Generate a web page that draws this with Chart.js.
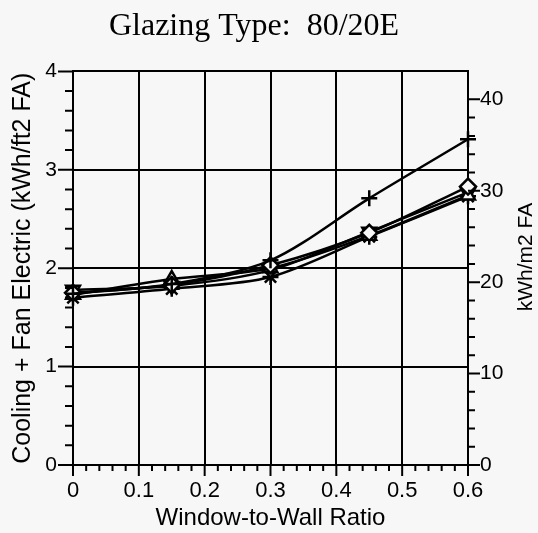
<!DOCTYPE html>
<html>
<head>
<meta charset="utf-8">
<script src="https://cdn.jsdelivr.net/npm/chart.js@4/dist/chart.umd.min.js"></script>
<style>
  html, body { margin: 0; padding: 0; background: #f7f7f7; }
  #wrap { width: 538px; height: 533px; }
</style>
</head>
<body>
<div id="wrap"><canvas id="myChart" width="538" height="533"></canvas></div>
<script>
// window-to-wall ratios where the runs were made
const wwr = [0, 0.15, 0.3, 0.45, 0.6];

// cooling + fan electric, kWh/ft2 FA, one array per marker
const plusSeries = [1.74, 1.84, 2.08, 2.71, 3.31];
const diamondSeries = [1.75, 1.83, 2.03, 2.36, 2.83];
const triangleSeries = [1.73, 1.89, 2.00, 2.33, 2.74];
const downTriSeries = [1.78, 1.82, 1.98, 2.37, 2.77];
const starSeries = [1.70, 1.79, 1.91, 2.32, 2.73];

const xTickLabels = ["0", "0.1", "0.2", "0.3", "0.4", "0.5", "0.6"];
const yTickLabels = ["0", "1", "2", "3", "4"];
const y2TickLabels = ["0", "10", "20", "30", "40"];

const FT2_TO_M2 = 10.764;
const sans = "'Liberation Sans', Arial, sans-serif";

function isMultiple(v, step) {
  const r = v / step;
  return Math.abs(r - Math.round(r)) < 1e-6;
}

function pts(arr) {
  return wwr.map((x, i) => ({ x: x, y: arr[i] }));
}

function makeSet(label, arr, style, rot) {
  return {
    label: label,
    data: pts(arr),
    borderColor: "#000",
    borderWidth: 2.5,
    backgroundColor: "#fff",
    pointStyle: style,
    pointRotation: rot || 0,
    pointRadius: 8,
    pointBorderWidth: 2.5,
    pointBackgroundColor: "#f7f7f7",
    pointBorderColor: "#000",
    tension: 0.3,
    clip: false,
    fill: false,
  };
}

// tick marks (major / minor) and the right axis title
const axisDecor = {
  id: "axisDecor",
  afterDraw(chart) {
    const ctx = chart.ctx;
    const a = chart.chartArea;
    ctx.save();
    ctx.strokeStyle = "#000";
    ctx.lineWidth = 2;
    ctx.beginPath();
    const sx = chart.scales.x;
    sx.ticks.forEach((t) => {
      const px = sx.getPixelForValue(t.value);
      const len = isMultiple(t.value, 0.1) ? 11 : 6;
      ctx.moveTo(px, a.bottom);
      ctx.lineTo(px, a.bottom + len);
    });
    const sy = chart.scales.y;
    sy.ticks.forEach((t) => {
      const py = sy.getPixelForValue(t.value);
      const len = isMultiple(t.value, 1) ? 15 : 8;
      ctx.moveTo(a.left, py);
      ctx.lineTo(a.left - len, py);
    });
    const sy2 = chart.scales.y2;
    sy2.ticks.forEach((t) => {
      if (t.value > 42.5) return;
      const py = sy2.getPixelForValue(t.value);
      const len = isMultiple(t.value, 10) ? 12 : 7;
      ctx.moveTo(a.right, py);
      ctx.lineTo(a.right + len, py);
    });
    ctx.stroke();

    ctx.fillStyle = "#000";
    ctx.font = "21px " + sans;
    ctx.textAlign = "center";
    ctx.textBaseline = "middle";
    ctx.translate(526, 257);
    ctx.rotate(-Math.PI / 2);
    ctx.fillText("kWh/m2 FA", 0, 0);
    ctx.restore();
  },
};

const ctx = document.getElementById("myChart").getContext("2d");
new Chart(ctx, {
  type: "line",
  data: {
    datasets: [
      makeSet("plus", plusSeries, "cross"),
      makeSet("diamond", diamondSeries, "rectRot"),
      makeSet("triangle", triangleSeries, "triangle"),
      makeSet("down triangle", downTriSeries, "triangle", 180),
      makeSet("star", starSeries, "star"),
    ],
  },
  plugins: [axisDecor],
  options: {
    responsive: false,
    animation: false,
    layout: { padding: { left: 0, right: 30, top: 0, bottom: 0 } },
    plugins: {
      legend: { display: false },
      tooltip: { enabled: false },
      title: {
        display: true,
        text: "Glazing Type:  80/20E",
        color: "#000",
        font: { family: "'Liberation Serif', 'Times New Roman', serif", size: 32, weight: "normal" },
        padding: { top: 7, bottom: 26 },
      },
    },
    scales: {
      x: {
        type: "linear",
        min: 0,
        max: 0.6,
        afterFit: (s) => { s.height = 68; },
        ticks: {
          stepSize: 0.02,
          autoSkip: false,
          maxRotation: 0,
          color: "#000",
          padding: 13,
          font: { family: sans, size: 22 },
          callback: (v) => (isMultiple(v, 0.1) ? xTickLabels[Math.round(v * 10)] : ""),
        },
        grid: {
          drawTicks: false,
          lineWidth: 2,
          color: (c) => (c.tick && isMultiple(c.tick.value, 0.1) ? "#000" : "rgba(0,0,0,0)"),
        },
        border: { display: true, color: "#000", width: 2 },
        title: {
          display: true,
          text: "Window-to-Wall Ratio",
          color: "#000",
          font: { family: sans, size: 24 },
          padding: { top: 0, bottom: 0 },
        },
      },
      y: {
        type: "linear",
        position: "left",
        min: 0,
        max: 4,
        afterFit: (s) => { s.width = 73; },
        ticks: {
          stepSize: 0.2,
          autoSkip: false,
          color: "#000",
          padding: 16,
          font: { family: sans, size: 21 },
          callback: (v) => (isMultiple(v, 1) ? yTickLabels[Math.round(v)] : ""),
        },
        grid: {
          drawTicks: false,
          lineWidth: 2,
          color: (c) => (c.tick && isMultiple(c.tick.value, 1) ? "#000" : "rgba(0,0,0,0)"),
        },
        border: { display: true, color: "#000", width: 2 },
        title: {
          display: true,
          text: "Cooling + Fan Electric (kWh/ft2 FA)",
          color: "#000",
          font: { family: sans, size: 25 },
          padding: { top: 8, bottom: 0 },
        },
      },
      y2: {
        type: "linear",
        position: "right",
        min: 0,
        max: 4 * FT2_TO_M2,
        afterFit: (s) => { s.width = 40; },
        ticks: {
          stepSize: 2,
          autoSkip: false,
          color: "#000",
          padding: 12,
          font: { family: sans, size: 21 },
          callback: (v) => (isMultiple(v, 10) ? y2TickLabels[Math.round(v / 10)] : ""),
        },
        grid: { drawTicks: false, drawOnChartArea: false },
        border: { display: true, color: "#000", width: 2 },
      },
    },
  },
});
</script>
</body>
</html>
